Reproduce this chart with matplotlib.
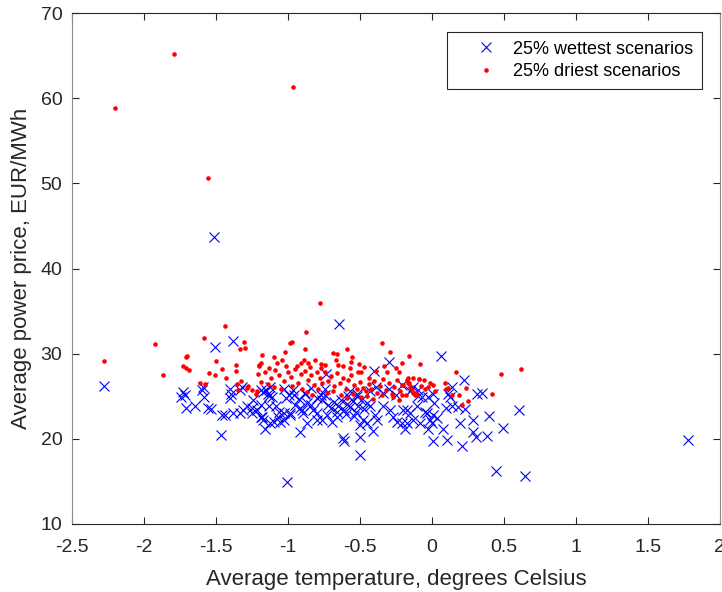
import matplotlib
matplotlib.use("Agg")
import matplotlib.pyplot as plt

plt.rcParams['font.family'] = ['Liberation Sans', 'DejaVu Sans']

# 25% wettest scenarios (temperature, price)
wet_temp = [
    -2.28, -1.505, -1.38, -1.514, -1.727, -1.715, -1.74, -1.71, -1.646, -1.588,
    -1.60, -1.583, -1.553, -1.537, -1.463, -1.46, -1.44, -1.40, -1.398, -1.40,
    -1.38, -1.33, -1.31, -1.287, -1.33, -1.32, -1.25, -1.19, -1.19, -1.17,
    -1.16, -1.15, -1.14, -1.11, -1.13, -1.08, -1.06, -1.07, -1.03, -1.01,
    -0.986, -0.963, -0.917, -0.917, -0.894, -0.87, -0.824, -0.80, -1.007, -0.50,
    -0.616, -0.609, -0.50, -0.407, -0.1875, -0.176, -0.21, -0.13, -0.153, -0.20,
    -0.106, -0.453, -0.50, -0.477, -0.384, -0.396, -0.338, -0.29, -0.269, -0.245,
    -0.697, -0.662, -0.731, -0.766, -0.80, -0.87, -0.905, -0.986, -1.03, -1.056,
    -1.10, -1.125, -1.18, -1.217, -1.24, -1.25, -0.76, -0.72, -0.70, -0.68,
    -0.65, -0.63, -0.61, -0.59, -0.57, -0.55, -0.53, -0.51, -0.49, -0.47,
    -0.45, -0.43, -0.66, -0.60, -0.54, -0.58, -0.52, -0.74, -0.80, -0.84,
    -0.88, -0.92, -0.95, -0.99, 0.22, 0.137, 0.109, 0.125, 0.31, 0.345,
    0.606, 0.40, 0.495, 0.385, 0.305, 0.287, 0.283, 0.208, 0.197, 0.107,
    0.01, 0.074, 0.444, 0.646, 0.23, 0.18, 0.14, 0.10, 0.016, 0.009,
    0.033, -0.014, -0.037, -0.049, -0.002, -0.026, -0.083, -0.176, -0.072, -0.095,
    -0.13, 0.009, -0.026, 0.065, 1.78, -0.736, -0.40, -0.296, -0.644, -1.17,
    -1.13, -1.03, -0.96, -0.88, -0.84, -0.77, -0.74, -0.57, -0.52, -0.43,
    -0.39, -0.34, -0.30, -0.25, -0.21, -0.15, -0.10, -1.19, -1.125,
]
wet_price = [
    26.2, 30.8, 31.5, 43.7, 25.5, 25.1, 24.9, 23.6, 23.85, 26.1,
    25.7, 24.9, 23.6, 23.5, 20.4, 22.8, 22.8, 25.9, 25.3, 24.75,
    23.0, 23.0, 23.4, 23.8, 25.7, 26.1, 23.6, 24.0, 22.6, 22.2,
    21.1, 25.7, 25.3, 24.9, 23.9, 23.8, 23.2, 22.6, 22.2, 24.75,
    23.0, 25.7, 23.6, 20.8, 23.0, 24.2, 23.4, 22.2, 14.9, 18.1,
    20.06, 19.8, 20.25, 20.95, 21.2, 21.8, 21.8, 22.2, 23.0, 23.4,
    23.8, 21.9, 21.6, 22.2, 22.2, 22.8, 23.8, 23.4, 22.6, 22.0,
    22.0, 22.6, 22.8, 22.2, 23.0, 21.8, 23.4, 22.8, 23.0, 22.0,
    22.0, 21.8, 22.6, 23.4, 24.6, 23.0, 24.5, 24.0, 23.6, 24.3,
    23.8, 24.6, 23.4, 24.1, 23.7, 24.4, 23.2, 23.9, 24.5, 23.5,
    24.2, 23.8, 23.1, 22.9, 22.7, 25.0, 25.3, 25.2, 24.8, 24.0,
    25.3, 24.7, 24.0, 25.2, 26.9, 26.1, 25.3, 24.9, 25.3, 25.4,
    23.4, 22.7, 21.3, 20.3, 20.25, 20.8, 22.2, 19.1, 21.9, 19.9,
    19.8, 21.1, 16.25, 15.6, 23.5, 23.7, 23.8, 23.6, 24.2, 22.8,
    22.4, 22.2, 23.0, 23.2, 21.8, 21.2, 21.8, 23.4, 24.9, 25.7,
    26.1, 25.3, 24.9, 29.75, 19.9, 27.6, 28.0, 29.0, 33.5, 25.5,
    25.0, 25.8, 25.1, 25.4, 26.0, 25.2, 25.9, 25.6, 25.0, 25.6,
    26.1, 25.4, 25.9, 25.2, 26.3, 25.6, 25.0, 25.7, 26.1,
]

# 25% driest scenarios (temperature, price)
dry_temp = [
    -2.20, -1.79, -0.963, -1.556, -0.778, -0.873, -2.28, -1.92, -1.87, -1.44,
    -1.58, -1.70, -1.71, -1.727, -1.71, -1.685, -1.50, -1.547, -1.507, -1.458,
    -1.433, -1.613, -1.576, -1.306, -1.296, -1.33, -1.36, -1.36, -1.20, -1.21,
    -1.356, -1.326, -1.276, -1.287, -1.252, -1.224, -1.217, -1.35, -1.19, -0.986,
    -0.972, -1.023, -0.884, -1.18, -0.6875, -0.658, -0.588, -0.557, -0.565, -0.347,
    -0.29, -0.162, -0.206, -0.507, -0.664, -0.653, -0.8125, -0.771, -0.745, -1.095,
    -1.078, -1.04, -0.91, -0.889, -0.859, -1.20, -1.19, -0.516, -0.495, -0.44,
    -0.31, -0.23, -0.09, -0.13, -1.16, -1.12, -1.09, -1.06, -1.03, -1.00,
    -0.98, -0.95, -0.93, -0.91, -0.88, -0.86, -0.84, -0.82, -0.80, -0.78,
    -0.76, -0.74, -0.72, -0.70, -0.68, -0.66, -0.64, -0.62, -0.60, -0.58,
    -0.56, -0.54, -0.52, -0.50, -0.48, -0.46, -0.44, -0.42, -0.40, -0.38,
    -0.36, -0.34, -0.32, -0.30, -0.28, -0.26, -0.24, -0.22, -0.20, -0.18,
    -0.16, -0.14, -0.12, -1.14, -1.10, -1.05, -0.97, -0.90, -0.87, -0.83,
    -0.79, -0.73, -0.69, -0.63, -0.59, -0.55, -0.49, -0.45, -0.41, -0.35,
    -0.27, -0.23, -0.94, -0.85, -0.77, -0.62, -0.57, -0.47, -0.39, -0.33,
    -0.25, -1.01, -1.13, -0.08, 0.17, 0.48, 0.62, 0.415, 0.19, 0.14,
    0.24, 0.088, 0.10, 0.11, 0.248, 0.206, 0.021, 0.009, -0.014, -0.026,
    -0.049, -0.056, -0.088, -0.078, -0.106, -0.118, -0.13, -0.153, -0.165, -0.176,
    -0.165, -0.21, -0.21,
]
dry_price = [
    58.8, 65.2, 61.3, 50.6, 36.0, 32.6, 29.1, 31.1, 27.5, 33.2,
    31.8, 29.7, 29.6, 28.6, 28.3, 28.1, 29.1, 27.7, 27.5, 28.2,
    27.1, 26.5, 26.4, 31.4, 30.7, 30.5, 28.7, 28.0, 28.5, 27.6,
    26.4, 26.8, 26.2, 26.0, 25.7, 25.3, 25.6, 25.7, 26.7, 31.2,
    31.4, 30.2, 30.5, 29.8, 30.1, 30.0, 30.6, 29.6, 29.0, 31.2,
    30.2, 29.7, 28.9, 28.8, 29.2, 28.7, 29.2, 28.8, 28.7, 29.6,
    28.9, 29.2, 28.9, 29.2, 28.9, 28.7, 28.9, 27.8, 27.8, 27.2,
    27.9, 27.8, 27.0, 27.2, 27.9, 27.2, 28.1, 27.5, 26.8, 27.9,
    27.3, 28.2, 26.6, 27.6, 28.0, 26.9, 27.5, 26.3, 27.8, 27.1,
    26.5, 27.9, 26.8, 27.4, 26.2, 27.7, 26.6, 27.2, 25.9, 26.9,
    27.5, 26.3, 25.8, 26.7, 26.0, 25.6, 26.4, 25.9, 26.8, 25.4,
    26.2, 27.0, 25.7, 26.5, 25.3, 26.1, 26.9, 25.6, 26.3, 25.2,
    26.6, 25.9, 25.4, 26.4, 26.1, 25.8, 26.2, 25.9, 25.5, 25.1,
    25.8, 25.4, 25.6, 25.2, 24.8, 25.3, 24.9, 25.0, 24.7, 25.1,
    24.9, 24.5, 28.6, 28.4, 28.3, 28.5, 28.3, 28.4, 28.0, 28.6,
    28.3, 28.5, 28.3, 28.8, 27.8, 27.6, 28.2, 25.3, 25.1, 25.1,
    26.0, 26.5, 25.8, 26.0, 24.4, 24.0, 25.6, 26.3, 26.6, 26.1,
    25.9, 26.9, 27.0, 26.2, 25.3, 25.1, 25.4, 26.1, 26.5, 26.9,
    27.2, 26.3, 25.1,
]

x_ticks = [-2.5, -2, -1.5, -1, -0.5, 0, 0.5, 1, 1.5, 2]
y_ticks = [10, 20, 30, 40, 50, 60, 70]


def main():
    fig = plt.figure(figsize=(7.22, 5.92), dpi=100)
    ax = fig.add_axes([0.0997, 0.1149, 0.8973, 0.8631])

    ax.plot(wet_temp, wet_price, 'x', color=(0, 0, 1), ms=7, mew=0.8,
            linestyle='none', label='25% wettest scenarios')
    ax.plot(dry_temp, dry_price, 'o', color=(1, 0, 0), ms=3.3, mew=0,
            linestyle='none', label='25% driest scenarios')

    ax.set_xlim(-2.5, 2)
    ax.set_ylim(10, 70)
    ax.set_xticks(x_ticks)
    ax.set_xticklabels([f"{t:g}" for t in x_ticks])
    ax.set_yticks(y_ticks)

    ax.tick_params(direction='in', top=True, right=True, length=5,
                   width=0.8, labelsize=14, colors='#262626')
    ax.tick_params(axis='x', pad=11)
    ax.tick_params(axis='y', pad=7)
    for side in ['left', 'right']:
        ax.spines[side].set_color('#8c8c8c')
    for side in ['top', 'bottom']:
        ax.spines[side].set_color('#262626')
    for s in ax.spines.values():
        s.set_linewidth(0.8)

    ax.set_xlabel("Average temperature, degrees Celsius", fontsize=16,
                  color='#262626', labelpad=9)
    ax.set_ylabel("Average power price, EUR/MWh", fontsize=16,
                  color='#262626', labelpad=6)

    leg = ax.legend(loc='upper right', bbox_to_anchor=(0.972, 0.963),
                    borderaxespad=0, fontsize=13, fancybox=False,
                    framealpha=1, edgecolor='#262626', handletextpad=-0.15,
                    handlelength=3.3, borderpad=0.48, labelspacing=0.32)
    leg.get_frame().set_linewidth(0.8)

    fig.savefig("out.png", dpi=100)
    plt.close(fig)


if __name__ == "__main__":
    main()
